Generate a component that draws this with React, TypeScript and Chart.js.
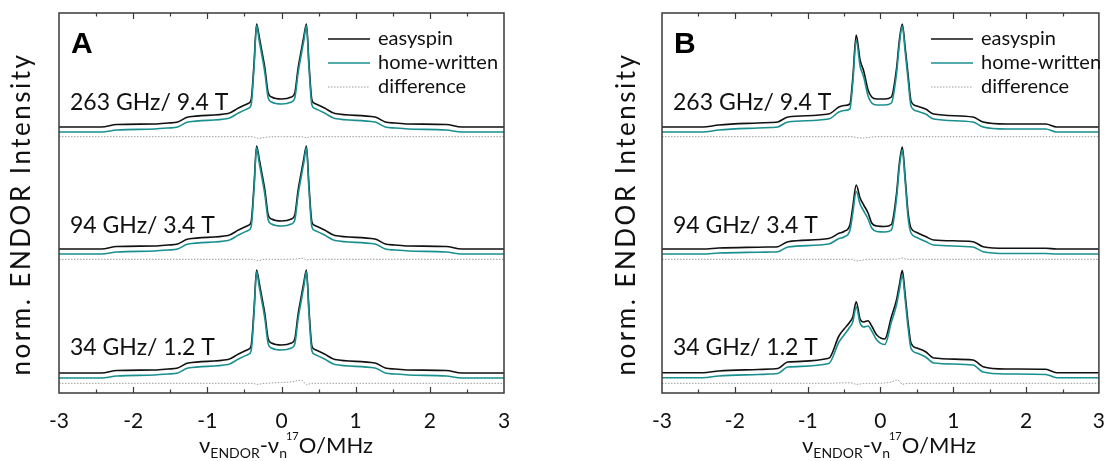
import { useEffect, useRef } from "react";
import { Chart, registerables } from "chart.js";

Chart.register(...registerables);

// ---------- data ----------
const X_TICK_LABELS = [-3, -2, -1, 0, 1, 2, 3];
const X_MINOR = [-2.5, -2, -1.5, -1, -0.5, 0, 0.5, 1, 1.5, 2, 2.5];
const FREQ_LABELS = ["263 GHz/ 9.4 T", "94 GHz/ 3.4 T", "34 GHz/ 1.2 T"];
const LEGEND_LABELS = ["easyspin", "home-written", "difference"];

// panel A frequency grid (MHz)
const XA = [-3, -2.43, -2.22, -1.71, -1.53, -1.4, -1.26, -0.72, -0.58, -0.45, -0.41, -0.37, -0.336, -0.3, -0.268, -0.224, -0.179, -0.134, 0, 0.134, 0.179, 0.224, 0.268, 0.3, 0.336, 0.37, 0.41, 0.45, 0.58, 0.72, 1.26, 1.4, 1.53, 1.71, 2.22, 2.43, 3];

const A263_EASY = [26.6, 26.6, 26.85, 26.9, 27.0, 27.1, 27.6, 27.95, 28.5, 28.95, 29.3, 33.0, 36.9, 35.6, 34.3, 32.5, 30.0, 29.6, 29.4, 29.6, 30.0, 32.5, 34.3, 35.6, 36.9, 33.0, 29.3, 28.95, 28.5, 27.95, 27.6, 27.1, 27.0, 26.9, 26.85, 26.6, 26.6];
const A263_HOME = [26.1, 26.1, 26.3, 26.4, 26.5, 26.6, 27.1, 27.45, 28.0, 28.45, 28.8, 32.6, 36.75, 35.2, 33.9, 32.0, 29.5, 29.1, 28.9, 29.1, 29.5, 32.0, 33.9, 35.2, 36.75, 32.6, 28.8, 28.45, 28.0, 27.45, 27.1, 26.6, 26.5, 26.4, 26.3, 26.1, 26.1];
const A263_DIFF = [25.63, 25.63, 25.63, 25.63, 25.63, 25.63, 25.63, 25.63, 25.63, 25.63, 25.63, 25.6, 25.5, 25.47, 25.5, 25.55, 25.6, 25.62, 25.63, 25.63, 25.63, 25.63, 25.62, 25.6, 25.53, 25.6, 25.63, 25.63, 25.63, 25.63, 25.63, 25.63, 25.63, 25.63, 25.63, 25.63, 25.63];

const A94_EASY = [14.4, 14.4, 14.65, 14.7, 14.8, 14.9, 15.4, 15.75, 16.3, 16.75, 17.1, 20.8, 24.7, 23.4, 22.1, 20.3, 17.8, 17.4, 17.2, 17.4, 17.8, 20.3, 22.1, 23.4, 24.7, 20.8, 17.1, 16.75, 16.3, 15.75, 15.4, 14.9, 14.8, 14.7, 14.65, 14.4, 14.4];
const A94_HOME = [13.9, 13.9, 14.1, 14.2, 14.3, 14.4, 14.9, 15.25, 15.8, 16.25, 16.6, 20.4, 24.55, 23.0, 21.7, 19.8, 17.3, 16.9, 16.7, 16.9, 17.3, 19.8, 21.7, 23.0, 24.55, 20.4, 16.6, 16.25, 15.8, 15.25, 14.9, 14.4, 14.3, 14.2, 14.1, 13.9, 13.9];
const A94_DIFF = [13.37, 13.37, 13.37, 13.37, 13.37, 13.37, 13.37, 13.37, 13.37, 13.37, 13.37, 13.35, 13.23, 13.25, 13.3, 13.37, 13.37, 13.37, 13.37, 13.37, 13.37, 13.42, 13.48, 13.45, 13.3, 13.35, 13.37, 13.37, 13.37, 13.37, 13.37, 13.37, 13.37, 13.37, 13.37, 13.37, 13.37];

const A34_EASY = [2.0, 2.0, 2.25, 2.3, 2.4, 2.5, 3.0, 3.35, 3.9, 4.35, 4.7, 8.4, 12.3, 11.0, 9.7, 7.9, 5.4, 5.0, 4.8, 5.0, 5.4, 7.9, 9.7, 11.0, 12.3, 8.4, 4.7, 4.35, 3.9, 3.35, 3.0, 2.5, 2.4, 2.3, 2.25, 2.0, 2.0];
const A34_HOME = [1.5, 1.5, 1.7, 1.8, 1.9, 2.0, 2.5, 2.85, 3.4, 3.85, 4.2, 8.0, 12.15, 10.6, 9.3, 7.4, 4.9, 4.5, 4.3, 4.5, 4.9, 7.4, 9.3, 10.6, 12.15, 8.0, 4.2, 3.85, 3.4, 2.85, 2.5, 2.0, 1.9, 1.8, 1.7, 1.5, 1.5];
const A34_DIFF = [0.97, 0.97, 0.97, 0.97, 0.97, 0.97, 0.97, 0.97, 0.97, 0.97, 0.97, 0.95, 0.87, 0.88, 0.93, 0.97, 0.98, 1.0, 1.05, 1.12, 1.18, 1.25, 1.28, 1.1, 0.82, 0.9, 0.97, 0.97, 0.97, 0.97, 0.97, 0.97, 0.97, 0.97, 0.97, 0.97, 0.97];

// panel B frequency grid (MHz)
const XB = [-3, -2.44, -2.22, -1.68, -1.5, -1.41, -1.27, -0.71, -0.57, -0.5, -0.42, -0.38, -0.333, -0.28, -0.23, -0.17, -0.12, -0.05, 0.06, 0.15, 0.22, 0.26, 0.3, 0.34, 0.38, 0.42, 0.5, 0.62, 0.73, 1.27, 1.41, 1.73, 2.27, 2.42, 3];

const B263_EASY = [26.6, 26.6, 26.8, 27.0, 27.05, 27.1, 27.6, 27.9, 28.6, 28.75, 28.9, 31.5, 35.8, 33.3, 32.2, 30.3, 29.6, 29.4, 29.4, 29.6, 32.4, 35.3, 36.9, 34.5, 31.8, 29.2, 28.7, 28.4, 27.9, 27.6, 27.1, 26.9, 26.9, 26.6, 26.6];
const B263_HOME = [26.1, 26.1, 26.3, 26.5, 26.55, 26.6, 27.1, 27.4, 28.1, 28.25, 28.4, 31.0, 35.3, 32.7, 31.6, 29.7, 29.0, 28.8, 28.8, 29.0, 31.9, 34.9, 36.7, 34.1, 31.3, 28.7, 28.2, 27.9, 27.4, 27.1, 26.6, 26.4, 26.4, 26.1, 26.1];
const B263_DIFF = [25.63, 25.63, 25.63, 25.63, 25.63, 25.63, 25.63, 25.63, 25.63, 25.63, 25.63, 25.63, 25.55, 25.5, 25.5, 25.55, 25.6, 25.63, 25.63, 25.63, 25.63, 25.63, 25.6, 25.63, 25.63, 25.63, 25.63, 25.63, 25.63, 25.63, 25.63, 25.63, 25.63, 25.63, 25.63];

const B94_EASY = [14.4, 14.4, 14.5, 14.58, 14.6, 14.63, 15.13, 15.45, 15.97, 16.15, 16.8, 18.6, 20.8, 19.5, 18.8, 18.0, 17.0, 16.7, 16.65, 16.85, 19.9, 23.0, 24.6, 21.5, 18.0, 16.5, 16.05, 15.65, 15.3, 15.13, 14.63, 14.47, 14.47, 14.4, 14.4];
const B94_HOME = [13.9, 13.9, 14.0, 14.08, 14.1, 14.13, 14.6, 14.9, 15.45, 15.6, 16.25, 18.0, 20.15, 18.9, 18.2, 17.4, 16.5, 16.15, 16.1, 16.3, 19.4, 22.6, 24.3, 21.1, 17.5, 16.0, 15.55, 15.15, 14.8, 14.6, 14.13, 13.95, 13.95, 13.9, 13.9];
const B94_DIFF = [13.37, 13.37, 13.37, 13.37, 13.37, 13.37, 13.37, 13.37, 13.37, 13.37, 13.37, 13.37, 13.2, 13.25, 13.32, 13.37, 13.37, 13.37, 13.37, 13.37, 13.37, 13.45, 13.5, 13.4, 13.37, 13.37, 13.37, 13.37, 13.37, 13.37, 13.37, 13.37, 13.37, 13.37, 13.37];

const B34_EASY = [2.03, 2.03, 2.2, 2.35, 2.4, 2.45, 3.1, 3.47, 5.7, 6.4, 7.1, 7.6, 9.13, 7.4, 7.1, 7.23, 6.7, 5.8, 5.4, 7.6, 9.3, 10.8, 12.25, 9.8, 7.0, 4.97, 4.5, 4.13, 3.5, 3.3, 2.63, 2.4, 2.37, 2.03, 2.03];
const B34_HOME = [1.53, 1.53, 1.7, 1.85, 1.9, 1.95, 2.6, 2.95, 5.1, 5.8, 6.6, 7.1, 8.63, 7.0, 6.6, 6.7, 6.2, 5.3, 4.85, 7.1, 8.8, 10.3, 11.8, 9.3, 6.5, 4.45, 4.0, 3.6, 3.0, 2.8, 2.1, 1.9, 1.85, 1.53, 1.53];
const B34_DIFF = [0.97, 0.97, 0.97, 0.97, 0.97, 0.97, 0.97, 0.97, 1.0, 1.02, 1.02, 0.98, 0.87, 0.9, 0.95, 0.97, 0.97, 0.97, 1.0, 1.1, 1.28, 1.2, 0.87, 0.92, 0.97, 0.97, 0.97, 0.97, 0.97, 0.97, 0.97, 0.97, 0.97, 0.97, 0.97];

// ---------- styles / layout ----------
const FONT = "Lato, 'DejaVu Sans', sans-serif";
const C_EASY = "#111111";
const C_HOME = "#1a8f8f";
const C_DIFF = "#9a9a9a";
const C_FRAME = "#3a3a3a";
const FREQ_LABEL_BASE = [28.3, 16.0, 3.8]; // label baselines in y-units

type Panel = {
  letter: string;
  xs: number[];
  series: { easy: number[]; home: number[]; diff: number[] }[];
};

const PANELS: Panel[] = [
  {
    letter: "A",
    xs: XA,
    series: [
      { easy: A263_EASY, home: A263_HOME, diff: A263_DIFF },
      { easy: A94_EASY, home: A94_HOME, diff: A94_DIFF },
      { easy: A34_EASY, home: A34_HOME, diff: A34_DIFF },
    ],
  },
  {
    letter: "B",
    xs: XB,
    series: [
      { easy: B263_EASY, home: B263_HOME, diff: B263_DIFF },
      { easy: B94_EASY, home: B94_HOME, diff: B94_DIFF },
      { easy: B34_EASY, home: B34_HOME, diff: B34_DIFF },
    ],
  },
];

function pts(xs: number[], ys: number[]) {
  return xs.map((x, i) => ({ x, y: ys[i] }));
}

function drawXTitle(ctx: CanvasRenderingContext2D, x0: number, base: number) {
  const main = `22px ${FONT}`;
  const sub = `14px ${FONT}`;
  const sup = `11px ${FONT}`;
  const parts: { t: string; f: string; dy: number; adv?: number }[] = [
    { t: "ν", f: main, dy: 0 },
    { t: "ENDOR", f: sub, dy: 5 },
    { t: "-ν", f: main, dy: 0 },
    { t: "n", f: sub, dy: 5, adv: -1 },
    { t: "17", f: sup, dy: -13, adv: 0 },
    { t: "O/MHz", f: main, dy: 0 },
  ];
  let x = x0;
  ctx.fillStyle = "#111";
  ctx.textAlign = "left";
  ctx.textBaseline = "alphabetic";
  for (const p of parts) {
    ctx.font = p.f;
    ctx.fillText(p.t, x, base + p.dy);
    x += ctx.measureText(p.t).width + (p.adv || 0);
  }
}

function makeDecor(panel: Panel, yTitleX: number) {
  return {
    id: "decor" + panel.letter,
    afterDraw(chart: any) {
      const { ctx, chartArea: a } = chart;
      const xs = chart.scales.x;
      const ys = chart.scales.y;
      ctx.save();
      // frame
      ctx.strokeStyle = C_FRAME;
      ctx.lineWidth = 1.5;
      ctx.setLineDash([]);
      ctx.strokeRect(a.left, a.top, a.right - a.left, a.bottom - a.top);
      // inward ticks top & bottom
      ctx.lineWidth = 1.2;
      for (const v of X_MINOR) {
        const px = Math.round(xs.getPixelForValue(v)) + 0.5;
        const len = Number.isInteger(v) ? 6 : 3.5;
        ctx.beginPath();
        ctx.moveTo(px, a.bottom);
        ctx.lineTo(px, a.bottom - len);
        ctx.moveTo(px, a.top);
        ctx.lineTo(px, a.top + len);
        ctx.stroke();
      }
      // panel letter
      ctx.fillStyle = "#000";
      ctx.font = `bold 30px 'Liberation Sans', Arial, sans-serif`;
      ctx.textAlign = "left";
      ctx.textBaseline = "alphabetic";
      ctx.fillText(panel.letter, a.left + 12, a.top + 40);
      // frequency labels
      ctx.font = `23px ${FONT}`;
      ctx.fillStyle = "#111";
      FREQ_LABELS.forEach((t, i) => {
        ctx.fillText(t, a.left + 11, ys.getPixelForValue(FREQ_LABEL_BASE[i]));
      });
      // legend
      const lx0 = a.left + 269;
      const lx1 = a.left + 311;
      const rows = [a.top + 26, a.top + 50, a.top + 74];
      const styles = [
        { c: C_EASY, w: 1.5, d: [] as number[] },
        { c: C_HOME, w: 1.5, d: [] as number[] },
        { c: C_DIFF, w: 1, d: [1.5, 1.5] },
      ];
      rows.forEach((ry, i) => {
        ctx.strokeStyle = styles[i].c;
        ctx.lineWidth = styles[i].w;
        ctx.setLineDash(styles[i].d);
        ctx.beginPath();
        ctx.moveTo(lx0, ry);
        ctx.lineTo(lx1, ry);
        ctx.stroke();
        ctx.setLineDash([]);
        ctx.font = `20px ${FONT}`;
        ctx.fillStyle = "#111";
        ctx.textBaseline = "middle";
        ctx.fillText(LEGEND_LABELS[i], a.left + 319, ry);
      });
      // y title
      ctx.save();
      ctx.translate(yTitleX, 214);
      ctx.rotate(-Math.PI / 2);
      ctx.font = `26px ${FONT}`;
      (ctx as any).letterSpacing = "2.5px";
      ctx.textAlign = "center";
      ctx.textBaseline = "middle";
      ctx.fillStyle = "#111";
      ctx.fillText("norm. ENDOR Intensity", 0, 0);
      ctx.restore();
      // x title
      drawXTitle(ctx, a.left + 140, 453);
      ctx.restore();
    },
  };
}

function PanelChart({ panel, left, width, padLeft, padRight, yTitleX }: any) {
  const ref = useRef<HTMLCanvasElement>(null);
  useEffect(() => {
    if (!ref.current) return;
    const datasets: any[] = [];
    panel.series.forEach((s: any) => {
      datasets.push({
        label: "home-written",
        data: pts(panel.xs, s.home),
        borderColor: C_HOME,
        borderWidth: 1.6,
        order: 0,
      });
      datasets.push({
        label: "easyspin",
        data: pts(panel.xs, s.easy),
        borderColor: C_EASY,
        borderWidth: 1.6,
        order: 1,
      });
      datasets.push({
        label: "difference",
        data: pts(panel.xs, s.diff),
        borderColor: C_DIFF,
        borderWidth: 1,
        borderDash: [1.5, 1.5],
        order: 2,
      });
    });
    datasets.forEach((d) => {
      d.pointRadius = 0;
      d.fill = false;
      d.cubicInterpolationMode = "monotone";
    });
    const chart = new Chart(ref.current, {
      type: "line",
      data: { datasets },
      options: {
        responsive: false,
        animation: false,
        devicePixelRatio: 1,
        layout: { padding: { left: padLeft, right: padRight, top: 13, bottom: 0 } },
        plugins: {
          legend: { display: false },
          tooltip: { enabled: false },
        },
        scales: {
          x: {
            type: "linear",
            min: -3,
            max: 3,
            afterFit: (s: any) => {
              s.height = 68;
            },
            afterBuildTicks: (s: any) => {
              s.ticks = X_TICK_LABELS.map((v) => ({ value: v }));
            },
            grid: { display: false },
            border: { display: false },
            ticks: {
              font: { family: FONT, size: 21 },
              color: "#111",
              padding: 8,
              maxRotation: 0,
              autoSkip: false,
            },
          },
          y: { display: false, min: 0, max: 38 },
        },
      },
      plugins: [makeDecor(panel, yTitleX)],
    } as any);
    return () => chart.destroy();
  }, [panel]);
  return (
    <canvas
      ref={ref}
      width={width}
      height={461}
      style={{ position: "absolute", left, top: 0, width, height: 461 }}
    />
  );
}

export default function App() {
  return (
    <div style={{ position: "absolute", left: 0, top: 0, width: 1113, height: 461, background: "#fff" }}>
      <PanelChart panel={PANELS[0]} left={0} width={556} padLeft={59} padRight={52} yTitleX={22} />
      <PanelChart panel={PANELS[1]} left={556} width={557} padLeft={106} padRight={7} yTitleX={71} />
    </div>
  );
}
